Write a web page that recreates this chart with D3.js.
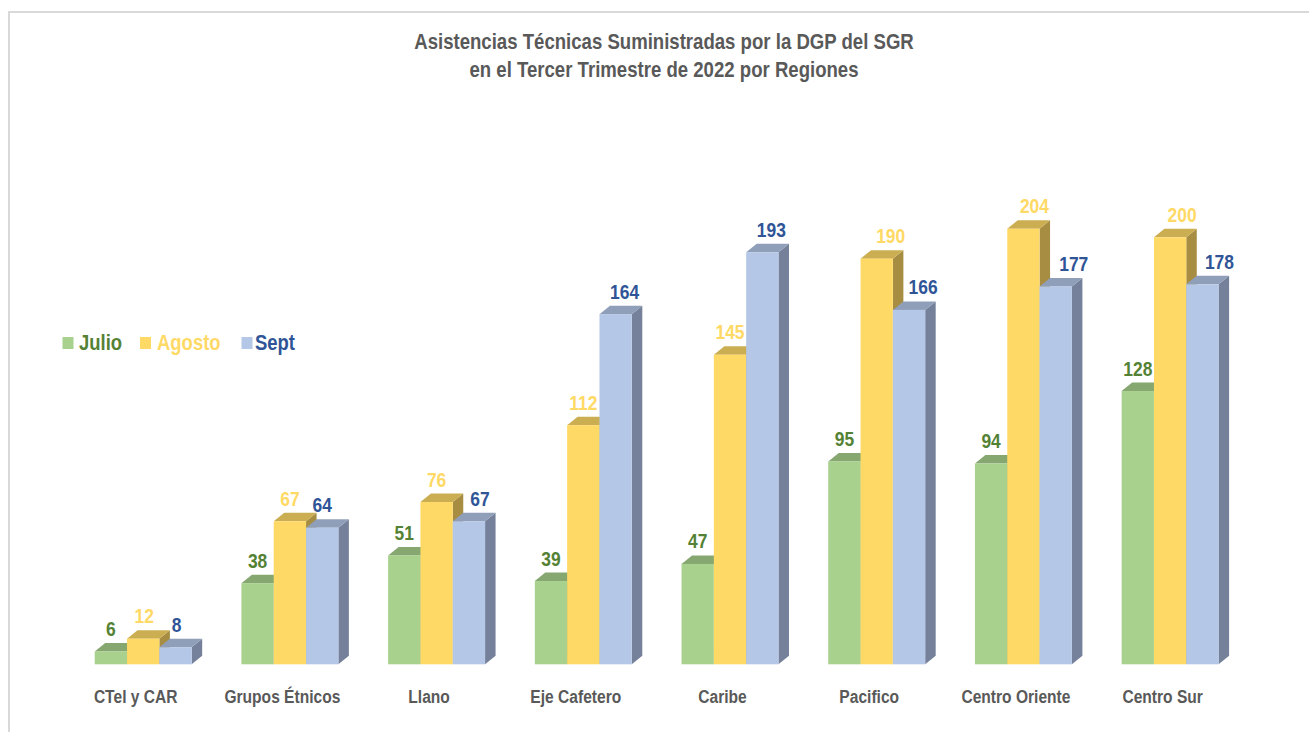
<!DOCTYPE html>
<html>
<head>
<meta charset="utf-8">
<script src="https://cdn.jsdelivr.net/npm/d3@7"></script>
<style>
  html, body { margin: 0; padding: 0; background: #ffffff; }
  svg { display: block; }
  text { font-family: "Liberation Sans", Arial, sans-serif; font-weight: bold; }
</style>
</head>
<body>
<svg id="chart" width="1309" height="732"></svg>
<script>
const categories = ["CTel y CAR", "Grupos Étnicos", "Llano", "Eje Cafetero", "Caribe", "Pacifico", "Centro Oriente", "Centro Sur"];
const seriesNames = ["Julio", "Agosto", "Sept"];
const julio  = [6, 38, 51, 39, 47, 95, 94, 128];
const agosto = [12, 67, 76, 112, 145, 190, 204, 200];
const sept   = [8, 64, 67, 164, 193, 166, 177, 178];
const titleLines = ["Asistencias Técnicas Suministradas por la DGP del SGR", "en el Tercer Trimestre de 2022 por Regiones"];

const seriesValues = [julio, agosto, sept];
const frontColors = ["#A9D18E", "#FFD966", "#B4C7E7"];
const topColors   = ["#87A771", "#CCAE52", "#909FB9"];
const sideColors  = ["#6E8A5B", "#A68D42", "#75819A"];
const labelColors = ["#548235", "#FFD966", "#2F5597"];
// manual label nudges (horizontal, px) as placed in the original chart
const labelNudge = [
  [0, 0, 0, 0, 0, 0, 0, 0],
  [1, 0, 0, 0, 0, 14, 11, 12],
  [1, 0, 11, 9, 9, 14, 18, 17]
];

const svg = d3.select("#chart");

function narrowText(parent, x, yPos, str, size, fill, anchor, sx) {
  const g = parent.append("g").attr("transform", `translate(${x},${yPos})`);
  g.append("text").attr("transform", `scale(${sx},1)`)
    .attr("text-anchor", anchor).attr("fill", fill)
    .style("font-size", size + "px").text(str);
  return g;
}

// frame
svg.append("rect").attr("x", 9).attr("y", 12).attr("width", 1400).attr("height", 800)
  .attr("fill", "none").attr("stroke", "#D9D9D9").attr("stroke-width", 2);

// title
narrowText(svg, 664, 49, titleLines[0], 22, "#595959", "middle", 0.845);
narrowText(svg, 664, 77, titleLines[1], 22, "#595959", "middle", 0.845);

const baseY = 664.3;
const y = d3.scaleLinear().domain([0, 200]).range([baseY, baseY - 427]);
const x0 = d3.scaleBand().domain(categories).range([94.7, 1218.6]).paddingInner(0.339).paddingOuter(0);
const x1 = d3.scaleBand().domain(seriesNames).range([0, x0.bandwidth()]).padding(0);
const dx = 10.5, dy = -8.5;

const gBars = svg.append("g");
categories.forEach((cat, ci) => {
  seriesNames.forEach((s, si) => {
    const v = seriesValues[si][ci];
    const xl = x0(cat) + x1(s);
    const w = x1.bandwidth();
    const yt = y(v);
    const g = gBars.append("g");
    g.append("path").attr("d", `M${xl + w},${yt} L${xl + w + dx},${yt + dy} L${xl + w + dx},${baseY + dy} L${xl + w},${baseY} Z`)
      .attr("fill", sideColors[si]);
    g.append("path").attr("d", `M${xl},${yt} L${xl + dx},${yt + dy} L${xl + w + dx},${yt + dy} L${xl + w},${yt} Z`)
      .attr("fill", topColors[si]);
    g.append("rect").attr("x", xl).attr("y", yt).attr("width", w).attr("height", baseY - yt)
      .attr("fill", frontColors[si]);
  });
});

// value labels
categories.forEach((cat, ci) => {
  seriesNames.forEach((s, si) => {
    const v = seriesValues[si][ci];
    narrowText(svg, x0(cat) + x1(s) + x1.bandwidth() / 2 + labelNudge[si][ci], y(v) - 15.5, v, 21, labelColors[si], "middle", 0.83);
  });
});

// category labels
categories.forEach(cat => {
  narrowText(svg, x0(cat) + x0.bandwidth() / 2 - 7.5, 703, cat, 19, "#595959", "middle", 0.82);
});

// legend
const legendItems = [
  { name: "Julio", sx: 62.5, tx: 79 },
  { name: "Agosto", sx: 140, tx: 157 },
  { name: "Sept", sx: 241.5, tx: 255 }
];
legendItems.forEach((it, i) => {
  svg.append("rect").attr("x", it.sx).attr("y", 337).attr("width", 11).attr("height", 12)
    .attr("fill", frontColors[i]);
  narrowText(svg, it.tx, 350, it.name, 22, labelColors[i], "start", 0.84);
});
</script>
</body>
</html>
